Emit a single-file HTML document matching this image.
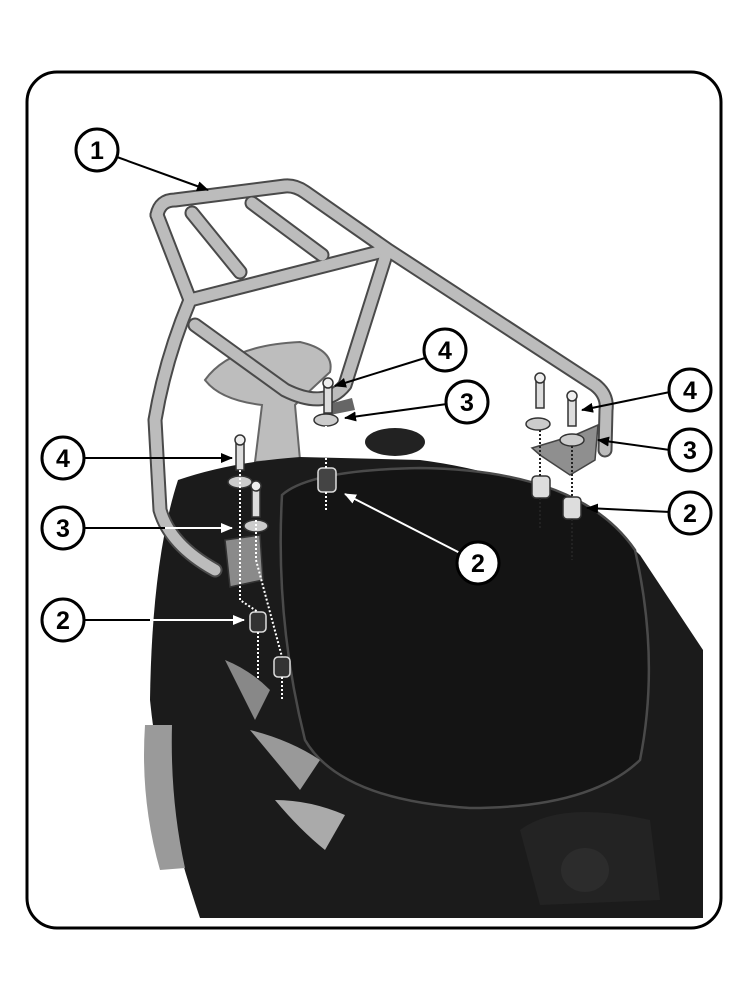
<!DOCTYPE html>
<html><head><meta charset="utf-8"><style>
html,body{margin:0;padding:0;background:#fff;width:750px;height:1000px;overflow:hidden}
text{font-family:"Liberation Sans",sans-serif;font-weight:bold}
</style></head><body>
<svg width="750" height="1000" viewBox="0 0 750 1000" xmlns="http://www.w3.org/2000/svg">
<defs>
<marker id="ah" markerWidth="12" markerHeight="10" refX="11" refY="5" orient="auto" markerUnits="userSpaceOnUse">
<path d="M0,0 L12,5 L0,10 Z" fill="#000"/></marker>
<marker id="aw" markerWidth="12" markerHeight="10" refX="11" refY="5" orient="auto" markerUnits="userSpaceOnUse">
<path d="M0,0 L12,5 L0,10 Z" fill="#fff"/></marker>
<clipPath id="cp"><rect x="27" y="72" width="694" height="856" rx="30"/></clipPath>
</defs>
<g clip-path="url(#cp)">
<path d="M205,380 Q230,345 300,342 Q335,350 330,372 Q305,395 295,405 L300,460 L255,462 L262,405 Q220,400 205,380 Z" fill="#bdbdbd" stroke="#666" stroke-width="2"/>
<path d="M178,480 Q230,462 300,457 L420,460 Q560,478 640,555 L703,650 L703,918 L200,918 Q160,800 150,700 Q152,560 178,480 Z" fill="#1b1b1b"/>
<ellipse cx="395" cy="442" rx="30" ry="14" fill="#222"/>
<path d="M282,495 Q310,470 420,468 Q580,470 635,550 Q660,660 640,760 Q590,808 470,808 Q340,800 305,740 Q275,620 282,495 Z" fill="#141414" stroke="#4a4a4a" stroke-width="2.5"/>
<path d="M225,660 Q245,700 255,720 L270,690 Q250,670 225,660 Z" fill="#888"/>
<path d="M250,730 Q275,760 300,790 L320,760 Q290,740 250,730 Z" fill="#999"/>
<path d="M275,800 Q300,830 325,850 L345,815 Q310,800 275,800 Z" fill="#aaa"/>
<path d="M145,725 Q140,800 160,870 L185,868 Q170,800 172,725 Z" fill="#9a9a9a"/>
<ellipse cx="585" cy="870" rx="24" ry="22" fill="#3a3a3a"/>
<path d="M520,830 Q560,800 650,820 L660,900 L540,905 Z" fill="#262626" opacity="0.7"/>
</g>
<g fill="none" stroke-linecap="round" stroke-linejoin="round">
<g stroke="#4a4a4a" stroke-width="15">
<path d="M157,215 Q160,200 175,200 L285,186 Q295,185 305,192 L388,250 L595,385 Q608,395 606,410 L605,450"/>
<path d="M157,215 L190,300 Q165,360 155,420 L160,510 Q170,545 215,570"/>
<path d="M190,300 L387,250"/>
<path d="M192,213 L240,272 M252,203 L322,255"/>
<path d="M195,325 L285,390 Q325,410 345,385 L385,258"/>
</g>
<g stroke="#bcbcbc" stroke-width="11">
<path d="M157,215 Q160,200 175,200 L285,186 Q295,185 305,192 L388,250 L595,385 Q608,395 606,410 L605,450"/>
<path d="M157,215 L190,300 Q165,360 155,420 L160,510 Q170,545 215,570"/>
<path d="M190,300 L387,250"/>
<path d="M192,213 L240,272 M252,203 L322,255"/>
<path d="M195,325 L285,390 Q325,410 345,385 L385,258"/>
</g>
</g>
<path d="M225,540 L260,535 L263,580 L230,587 Z" fill="#8a8a8a" stroke="#333" stroke-width="1.5"/>
<path d="M325,405 L352,398 L355,410 L330,415 Z" fill="#666"/>
<path d="M532,448 L575,435 L598,425 L595,460 L570,475 L540,455 Z" fill="#8f8f8f" stroke="#444" stroke-width="1.5"/>
<g stroke="#333" stroke-width="1.5">
<rect x="236" y="442" width="8" height="28" fill="#ddd"/><circle cx="240" cy="440" r="5" fill="#eee"/>
<rect x="252" y="487" width="8" height="30" fill="#ddd"/><circle cx="256" cy="486" r="5" fill="#eee"/>
<ellipse cx="240" cy="482" rx="12" ry="6" fill="#ccc"/>
<ellipse cx="256" cy="526" rx="12" ry="6" fill="#ccc"/>
<rect x="250" y="612" width="16" height="20" rx="4" fill="#333" stroke="#ddd"/>
<rect x="274" y="657" width="16" height="20" rx="4" fill="#333" stroke="#ddd"/>
<rect x="324" y="385" width="8" height="28" fill="#ddd"/><circle cx="328" cy="383" r="5" fill="#eee"/>
<ellipse cx="326" cy="420" rx="12" ry="6" fill="#ccc"/>
<rect x="318" y="468" width="18" height="24" rx="4" fill="#444" stroke="#ddd"/>
<rect x="536" y="380" width="8" height="28" fill="#ddd"/><circle cx="540" cy="378" r="5" fill="#eee"/>
<rect x="568" y="398" width="8" height="28" fill="#ddd"/><circle cx="572" cy="396" r="5" fill="#eee"/>
<ellipse cx="538" cy="424" rx="12" ry="6" fill="#ccc"/>
<ellipse cx="572" cy="440" rx="12" ry="6" fill="#ccc"/>
<rect x="532" y="476" width="18" height="22" rx="4" fill="#ddd"/>
<rect x="563" y="497" width="18" height="22" rx="4" fill="#ddd"/>
</g>
<g stroke-width="2" stroke-dasharray="2,2" fill="none">
<path stroke="#fff" d="M240,470 L240,600 L258,612 M256,520 L256,560 L282,657 M258,632 L258,680 M282,677 L282,700 M326,426 L326,468 M326,492 L326,510"/>
<path stroke="#222" d="M540,430 L540,476 M540,498 L540,530 M572,446 L572,497 M572,519 L572,560"/>
</g>
<rect x="27" y="72" width="694" height="856" rx="30" fill="none" stroke="#000" stroke-width="3"/>
<g stroke-width="2" fill="none">
<line stroke="#000" x1="117" y1="157" x2="208" y2="190" marker-end="url(#ah)"/>
<line stroke="#000" x1="425" y1="358" x2="335" y2="386" marker-end="url(#ah)"/>
<line stroke="#000" x1="447" y1="404" x2="345" y2="418" marker-end="url(#ah)"/>
<line stroke="#000" x1="84" y1="458" x2="232" y2="458" marker-end="url(#ah)"/>
<line stroke="#000" x1="84" y1="528" x2="165" y2="528"/>
<line stroke="#fff" x1="165" y1="528" x2="232" y2="528" marker-end="url(#aw)"/>
<line stroke="#000" x1="84" y1="620" x2="150" y2="620"/>
<line stroke="#fff" x1="150" y1="620" x2="244" y2="620" marker-end="url(#aw)"/>
<line stroke="#fff" x1="460" y1="553" x2="345" y2="494" marker-end="url(#aw)"/>
<line stroke="#000" x1="670" y1="392" x2="582" y2="410" marker-end="url(#ah)"/>
<line stroke="#000" x1="670" y1="450" x2="598" y2="440" marker-end="url(#ah)"/>
<line stroke="#000" x1="670" y1="512" x2="587" y2="508" marker-end="url(#ah)"/>
</g>
<g fill="#fff" stroke="#000" stroke-width="3">
<circle cx="97" cy="150" r="21"/><circle cx="445" cy="350" r="21"/><circle cx="467" cy="402" r="21"/>
<circle cx="63" cy="458" r="21"/><circle cx="63" cy="528" r="21"/><circle cx="63" cy="620" r="21"/>
<circle cx="478" cy="563" r="21"/><circle cx="690" cy="390" r="21"/><circle cx="690" cy="450" r="21"/>
<circle cx="690" cy="513" r="21"/>
</g>
<g font-size="25" text-anchor="middle" fill="#000">
<text x="97" y="159">1</text><text x="445" y="359">4</text><text x="467" y="411">3</text>
<text x="63" y="467">4</text><text x="63" y="537">3</text><text x="63" y="629">2</text>
<text x="478" y="572">2</text><text x="690" y="399">4</text><text x="690" y="459">3</text>
<text x="690" y="522">2</text>
</g>
</svg>
</body></html>
